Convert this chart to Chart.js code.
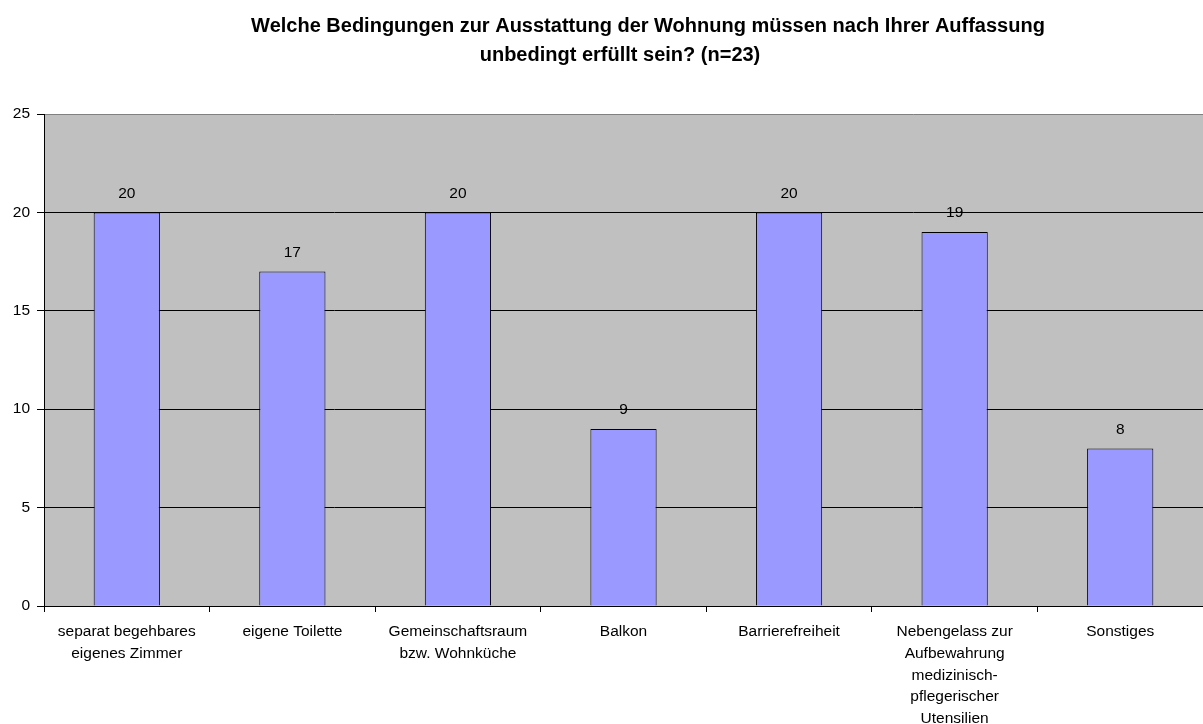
<!DOCTYPE html>
<html>
<head>
<meta charset="utf-8">
<script src="https://cdn.jsdelivr.net/npm/chart.js@4.4.0/dist/chart.umd.min.js"></script>
<style>
  html, body { margin: 0; padding: 0; background: #fff; }
  #wrap { width: 1203px; height: 724px; position: relative; }
</style>
</head>
<body>
<div id="wrap"><canvas id="chart" width="1203" height="724"></canvas></div>
<script>
const titleLines = ['Welche Bedingungen zur Ausstattung der Wohnung müssen nach Ihrer Auffassung', 'unbedingt erfüllt sein? (n=23)'];
const categories = [
    ['separat begehbares', 'eigenes Zimmer'],
    'eigene Toilette',
    ['Gemeinschaftsraum', 'bzw. Wohnküche'],
    'Balkon',
    'Barrierefreiheit',
    ['Nebengelass zur', 'Aufbewahrung', 'medizinisch-', 'pflegerischer', 'Utensilien'],
    'Sonstiges'
];
const values = [20, 17, 20, 9, 20, 19, 8];
const yTicks = [0, 5, 10, 15, 20, 25];

const font = "'Liberation Sans', Arial, sans-serif";

// grey plot background + title + value labels
const decor = {
    id: 'decor',
    beforeDraw(c) {
        const a = c.chartArea, ctx = c.ctx;
        ctx.save();
        ctx.fillStyle = '#c0c0c0';
        ctx.fillRect(a.left, a.top, a.right - a.left, a.bottom - a.top);
        ctx.fillStyle = '#000';
        ctx.font = 'bold 20px ' + font;
        ctx.textAlign = 'center';
        ctx.textBaseline = 'alphabetic';
        ctx.fillText(titleLines[0], 648, 32);
        ctx.fillText(titleLines[1], 620, 61);
        ctx.restore();
    },
    afterDatasetsDraw(c) {
        const ctx = c.ctx;
        ctx.save();
        ctx.fillStyle = '#000';
        ctx.font = '15.5px ' + font;
        ctx.textAlign = 'center';
        ctx.textBaseline = 'middle';
        c.getDatasetMeta(0).data.forEach((bar, i) => {
            ctx.fillText(values[i], bar.x, bar.y - 19);
        });
        ctx.restore();
    }
};

new Chart(document.getElementById('chart'), {
    type: 'bar',
    data: {
        labels: categories,
        datasets: [{
            data: values,
            backgroundColor: '#9999ff',
            borderColor: '#000',
            borderWidth: 1,
            borderSkipped: 'bottom',
            categoryPercentage: 1,
            barPercentage: 0.4
        }]
    },
    options: {
        responsive: false,
        animation: false,
        layout: { padding: { top: 114, right: 0, left: 0, bottom: 0 } },
        plugins: { legend: { display: false }, tooltip: { enabled: false } },
        scales: {
            x: {
                grid: { offset: true, drawOnChartArea: false, color: '#000', tickLength: 6 },
                border: { color: '#000' },
                ticks: { color: '#000', font: { family: font, size: 15.5, lineHeight: 1.4 }, maxRotation: 0, autoSkip: false, padding: 9 },
                afterFit(s) { s.height = 118; }
            },
            y: {
                min: 0, max: 25,
                afterBuildTicks(s) { s.ticks = yTicks.map(v => ({ value: v })); },
                grid: {
                    color: ctx => ctx.tick && ctx.tick.value === 25 ? '#808080' : '#000',
                    tickColor: '#000',
                    tickLength: 7
                },
                border: { color: '#000' },
                ticks: { color: '#000', font: { family: font, size: 15.5 }, padding: 7 },
                afterFit(s) { s.width = 44; }
            }
        }
    },
    plugins: [decor]
});
</script>
</body>
</html>
